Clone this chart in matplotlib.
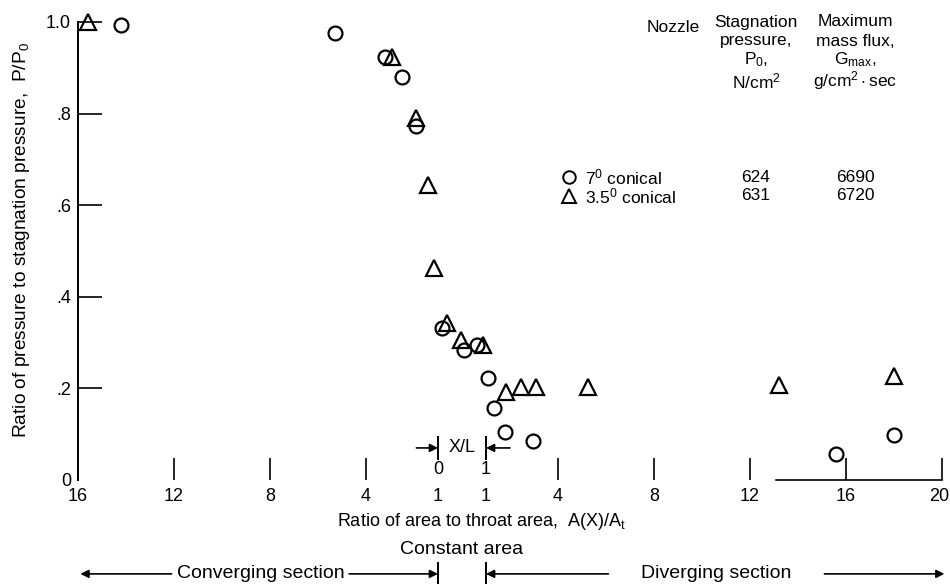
import matplotlib
matplotlib.use("Agg")
import numpy as np
from matplotlib import pyplot as plt
from matplotlib.transforms import ScaledTranslation

plt.rcParams['font.family'] = ['Liberation Sans', 'DejaVu Sans']
plt.rcParams['mathtext.fontset'] = 'custom'
plt.rcParams['mathtext.rm'] = 'Liberation Sans'
plt.rcParams['mathtext.it'] = 'Liberation Sans'

# 7 deg conical nozzle (circles)
circ_sec = ['conv'] * 5 + ['const'] * 3 + ['div'] * 6
circ_val = [14.2, 5.3, 3.2, 2.5, 1.9, 0.08, 0.54, 0.82, 1.08, 1.34, 1.79, 2.97, 15.6, 18.0]
circ_p = [0.993, 0.976, 0.924, 0.879, 0.773, 0.331, 0.284, 0.295, 0.223, 0.157, 0.105, 0.086, 0.056, 0.098]

# 3.5 deg conical nozzle (triangles)
tri_sec = ['conv'] * 5 + ['const'] * 3 + ['div'] * 6
tri_val = [15.6, 2.9, 1.9, 1.40, 1.17, 0.18, 0.47, 0.94, 1.84, 2.47, 3.09, 5.24, 13.2, 18.0]
tri_p = [1.0, 0.924, 0.79, 0.644, 0.463, 0.342, 0.306, 0.295, 0.193, 0.204, 0.204, 0.204, 0.207, 0.226]

# axis ticks
conv_ticks = [16, 12, 8, 4, 1]
div_ticks = [1, 4, 8, 12, 16, 20]
y_ticks = [0, 0.2, 0.4, 0.6, 0.8, 1.0]
y_labels = ['0', '.2', '.4', '.6', '.8', '1.0']

# legend table
nozzles = ['7$^\\mathregular{0}$ conical', '3.5$^\\mathregular{0}$ conical']
stag_p = ['624', '631']
gmax = ['6690', '6720']

FS = 13
LFS = 12.5


def pos(sec, v):
    # composite abscissa: converging area ratio, constant-area X/L, diverging area ratio
    if sec == 'conv':
        return 16 - v
    if sec == 'const':
        return 15 + 2 * v
    return 16 + v


fig = plt.figure(figsize=(9.5, 5.84), dpi=100)
W, H = 950, 584
ax = fig.add_axes([78 / W, 1 - 480 / H, 864 / W, 458 / H])
ax.set_xlim(0, 36)
ax.set_ylim(0, 1)

cx = [pos(s, v) for s, v in zip(circ_sec, circ_val)]
tx = [pos(s, v) for s, v in zip(tri_sec, tri_val)]
ax.plot(cx, circ_p, 'o', ms=10, mfc='none', mec='k', mew=1.6, clip_on=False)
ax.plot(tx, tri_p, '^', ms=11, mfc='none', mec='k', mew=1.6, clip_on=False)

for s in ['top', 'right', 'bottom']:
    ax.spines[s].set_visible(False)
ax.spines['left'].set_linewidth(1.4)

ax.set_yticks(y_ticks)
ax.set_yticklabels(y_labels)
ax.tick_params(axis='y', direction='in', length=17, width=1.2, labelsize=FS, pad=5)
ax.get_yaxis().get_major_ticks()[0].tick1line.set_visible(False)

xt = [pos('conv', v) for v in conv_ticks] + [pos('div', v) for v in div_ticks]
xl = [str(v) for v in conv_ticks] + [str(v) for v in div_ticks]
ax.set_xticks(xt)
ax.set_xticklabels(xl)
ax.tick_params(axis='x', direction='in', length=16, width=1.2, labelsize=FS, pad=6)
for i, v in enumerate(xt):
    if v in (0, 15, 17):
        ax.get_xaxis().get_major_ticks()[i].tick1line.set_visible(False)
last = ax.get_xticklabels()[-1]
last.set_ha('right')
last.set_transform(last.get_transform() + ScaledTranslation(7 / 100, 0, fig.dpi_scale_trans))

# short baseline at right end
ax.plot([29.1, 36], [0, 0], color='k', lw=1.2, clip_on=False)

# X/L marker in constant-area section
ax.plot([15, 15], [0.046, 0.094], color='k', lw=1.4, clip_on=False)
ax.plot([17, 17], [0.046, 0.094], color='k', lw=1.4, clip_on=False)
arr = dict(arrowstyle='-|>', lw=1.2, color='k', mutation_scale=12, shrinkA=0, shrinkB=0)
ax.annotate('', xy=(15, 0.07), xytext=(14.1, 0.07), arrowprops=arr, annotation_clip=False)
ax.annotate('', xy=(17, 0.07), xytext=(18.0, 0.07), arrowprops=arr, annotation_clip=False)
ax.text(16, 0.07, 'X/L', ha='center', va='center', fontsize=FS)
ax.text(15, 0.022, '0', ha='center', va='center', fontsize=FS)
ax.text(17, 0.022, '1', ha='center', va='center', fontsize=FS)

# axis labels
ax.text(16.8, -0.09, 'Ratio of area to throat area,  A(X)/A$_\\mathregular{t}$',
        ha='center', va='center', fontsize=FS, clip_on=False)
fig.text(22 / W, 1 - 240 / H, 'Ratio of pressure to stagnation pressure,  P/P$_\\mathregular{0}$',
         rotation=90, ha='center', va='center', fontsize=13.8)

# section annotations
ax.text(16.0, -0.151, 'Constant area', ha='center', va='center', fontsize=14, clip_on=False)
yb = -0.205
ax.plot([15, 15], [-0.181, -0.227], color='k', lw=1.4, clip_on=False)
ax.plot([17, 17], [-0.181, -0.227], color='k', lw=1.4, clip_on=False)
ax.annotate('', xy=(0.1, yb), xytext=(3.9, yb), arrowprops=arr, annotation_clip=False)
ax.text(7.6, yb, 'Converging section', ha='center', va='center', fontsize=14, clip_on=False)
ax.annotate('', xy=(15, yb), xytext=(11.3, yb), arrowprops=arr, annotation_clip=False)
ax.annotate('', xy=(17, yb), xytext=(22.1, yb), arrowprops=arr, annotation_clip=False)
ax.text(26.6, yb, 'Diverging section', ha='center', va='center', fontsize=14, clip_on=False)
ax.annotate('', xy=(36.1, yb), xytext=(31.1, yb), arrowprops=arr, annotation_clip=False)

# legend table
fig.text(673 / W, 1 - 27 / H, 'Nozzle', ha='center', va='center', fontsize=LFS)
head2 = ['Stagnation', 'pressure,', 'P$_\\mathregular{0}$,', 'N/cm$^\\mathregular{2}$']
head3 = ['Maximum', 'mass flux,', 'G$_\\mathregular{max}$,', 'g/cm$^\\mathregular{2}\\cdot$sec']
head_y = [22, 41, 60, 81]
for a, b, hy in zip(head2, head3, head_y):
    fig.text(756 / W, 1 - hy / H, a, ha='center', va='center', fontsize=LFS)
    fig.text(855 / W, 1 - hy / H, b, ha='center', va='center', fontsize=LFS)
mk = ['o', '^']
for i in range(2):
    yy = 1 - (177 + 19 * i) / H
    fig.lines.append(plt.Line2D([569 / W], [yy], marker=mk[i], ms=9 if i == 0 else 10, mfc='none',
                                mec='k', mew=1.4, transform=fig.transFigure, figure=fig))
    fig.text(585 / W, yy, nozzles[i], ha='left', va='center', fontsize=LFS)
    fig.text(756 / W, yy, stag_p[i], ha='center', va='center', fontsize=LFS)
    fig.text(855 / W, yy, gmax[i], ha='center', va='center', fontsize=LFS)

fig.savefig('out.png', dpi=100)
